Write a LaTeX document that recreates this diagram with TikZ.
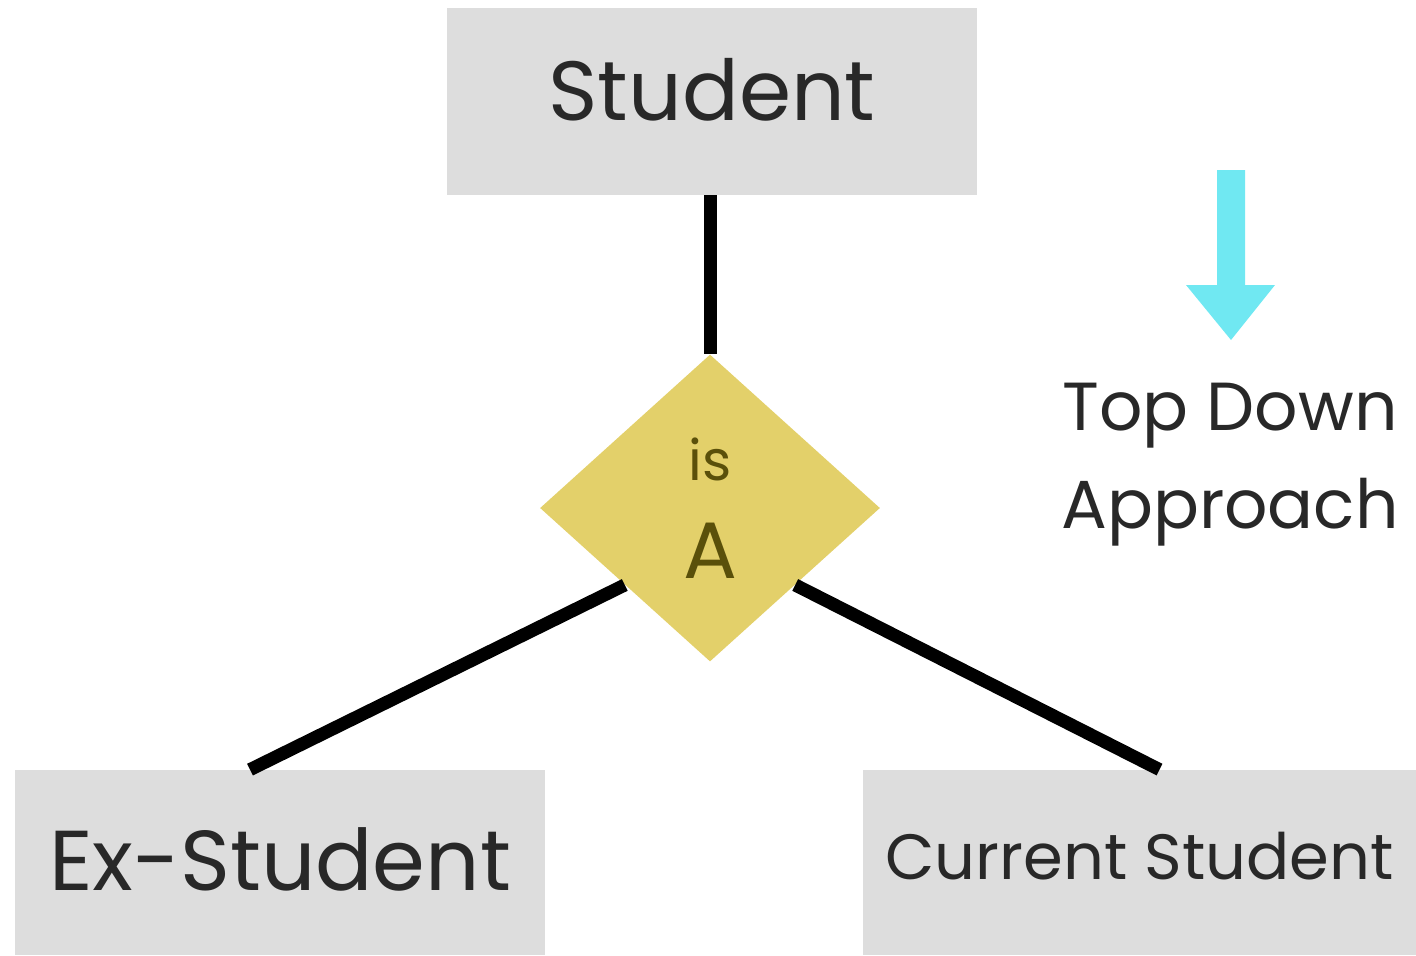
\documentclass[tikz,border=0pt]{standalone}
\usepackage{fontspec}
\setmainfont{Poppins}
\usetikzlibrary{shapes.geometric}

\definecolor{boxgray}{RGB}{221,221,221}
\definecolor{isayellow}{RGB}{227,208,106}
\definecolor{isatext}{RGB}{90,80,10}
\definecolor{arrowcyan}{RGB}{112,232,242}
\definecolor{inkgray}{RGB}{40,40,40}

\tikzset{
  entity/.style={fill=boxgray, draw=none, inner sep=0pt, text=inkgray},
  isarel/.style={diamond, fill=isayellow, draw=none, inner sep=0pt, text=isatext,
    align=center, minimum width=170pt, minimum height=153.5pt},
  link/.style={line width=6.5pt, line cap=butt, color=black}
}

\begin{document}
\begin{tikzpicture}[x=0.5pt,y=0.5pt,yscale=-1,xscale=1]
\useasboundingbox (0,0) rectangle (1416,955);

%Entities
\node [entity, minimum width=265pt, minimum height=93.5pt, text depth=12pt, font=\fontsize{42}{50}\selectfont] (student) at (712,101.5) {Student};
\node [entity, minimum width=265pt, minimum height=92.5pt, text depth=3pt, font=\fontsize{42.5}{50}\selectfont] (exstu) at (280,862.5) {Ex-Student};
\node [entity, minimum width=276.5pt, minimum height=92.5pt, text depth=7pt, font=\fontsize{32}{40}\selectfont] (curstu) at (1139.5,862.5) {Current Student};

%Relationship
\node [isarel] (isa) at (710,508) {{\fontsize{28}{30}\selectfont is}\\[20pt]{\fontsize{40}{40}\selectfont A}};

%Connectors
\draw [link] (isa.north |- student.south) -- (isa.north) ;
\draw [link] (isa.south west) -- ([xshift=-15pt]exstu.north) ;
\draw [link] (isa.south east) -- ([xshift=10pt]curstu.north) ;

%Direction arrow
\fill [arrowcyan] (1217,170) -- (1245,170) -- (1245,285) -- (1275,285) -- (1231,340) -- (1186,285) -- (1217,285) -- cycle ;

%Caption
\node [align=center, text=inkgray, font=\fontsize{34}{49}\selectfont] (topdown) at (1230,465) {Top Down\\Approach};

\end{tikzpicture}
\end{document}
